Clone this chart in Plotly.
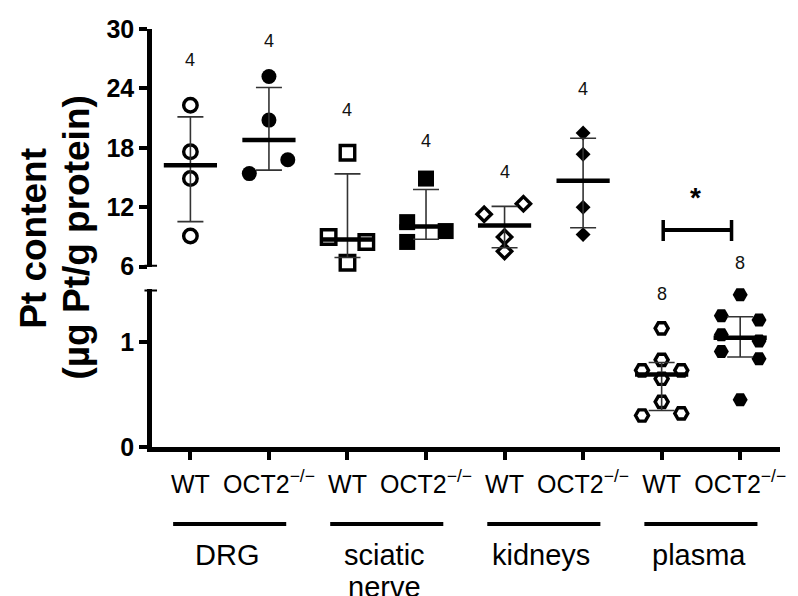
import numpy as np
import plotly.graph_objects as go

# ---------------- data ----------------
tick_labels = ["WT", "OCT2<sup>\u2212/\u2212</sup>"] * 4
group_names = ["DRG", "sciatic<br>nerve", "kidneys", "plasma"]

drg_wt = [22.3, 17.6, 14.9, 9.1]
drg_oct2 = [25.2, 20.8, 16.8, 15.4]
sciatic_wt = [17.5, 9.0, 8.5, 6.4]
sciatic_oct2 = [14.9, 10.5, 9.6, 8.5]
kidneys_wt = [12.35, 11.3, 9.0, 7.55]
kidneys_oct2 = [19.5, 17.35, 12.0, 9.24]
plasma_wt = [1.13, 0.83, 0.73, 0.73, 0.65, 0.43, 0.30, 0.32]
plasma_oct2 = [1.45, 1.25, 1.21, 1.07, 1.01, 0.91, 0.84, 0.45]

# horizontal scatter offsets of each point (category units)
jit_drg_wt = [0, 0, 0, 0]
jit_drg_oct2 = [0, 0, 0.24, -0.25]
jit_sciatic_wt = [0, -0.24, 0.24, 0]
jit_sciatic_oct2 = [0, -0.24, 0.25, -0.24]
jit_kidneys_wt = [0.24, -0.26, 0, 0]
jit_kidneys_oct2 = [0, 0, 0, 0]
jit_plasma_wt = [0, 0, -0.25, 0.25, 0, 0, -0.25, 0.25]
jit_plasma_oct2 = [0, -0.24, 0.24, -0.24, 0.24, -0.24, 0.24, 0]

n_labels = ["4", "4", "4", "4", "4", "4", "8", "8"]
n_label_axis = ["y2", "y2", "y2", "y2", "y2", "y2", "y", "y2"]
n_label_pos = [26.9, 28.8, 21.8, 18.7, 15.6, 23.9, 1.46, 6.37]

# ---------------- styling ----------------
FONT = "Arial, Liberation Sans, sans-serif"
series = [
    (drg_wt, jit_drg_wt, "circle", True, "y2"),
    (drg_oct2, jit_drg_oct2, "circle", False, "y2"),
    (sciatic_wt, jit_sciatic_wt, "square", True, "y2"),
    (sciatic_oct2, jit_sciatic_oct2, "square", False, "y2"),
    (kidneys_wt, jit_kidneys_wt, "diamond", True, "y2"),
    (kidneys_oct2, jit_kidneys_oct2, "diamond", False, "y2"),
    (plasma_wt, jit_plasma_wt, "hexagon2", True, "y"),
    (plasma_oct2, jit_plasma_oct2, "hexagon2", False, "y"),
]
size_open = {"circle": 13.5, "square": 14.5, "diamond": 11, "hexagon2": 13}
size_fill = {"circle": 15, "square": 16, "diamond": 11.5, "hexagon2": 15}

fig = go.Figure()
for i, (vals, jit, sym, is_open, yax) in enumerate(series):
    v = np.array(vals, dtype=float)
    xs = [i + j for j in jit]
    if is_open:
        marker = dict(symbol=sym, size=size_open[sym], color="rgba(0,0,0,0)",
                      line=dict(color="black", width=3.4))
    else:
        marker = dict(symbol=sym, size=size_fill[sym], color="black",
                      line=dict(width=0))
    fig.add_trace(go.Scatter(x=xs, y=v, mode="markers", marker=marker, cliponaxis=False,
                             yaxis=yax, showlegend=False, hoverinfo="skip"))
    med = float(np.median(v))
    q1, q3 = np.percentile(v, [25, 75], method="weibull")
    fig.add_trace(go.Scatter(
        x=[i], y=[med], mode="markers", yaxis=yax, showlegend=False,
        hoverinfo="skip", cliponaxis=False,
        marker=dict(symbol="line-ew", size=38, color="black",
                    line=dict(color="black", width=4.5)),
        error_y=dict(type="data", symmetric=False, array=[q3 - med],
                     arrayminus=[med - q1], color="#333333", thickness=1.6,
                     width=13)))

annotations = []
for i, (lab, ax, pos) in enumerate(zip(n_labels, n_label_axis, n_label_pos)):
    annotations.append(dict(x=i, y=pos, xref="x", yref=ax, text=lab,
                            showarrow=False, font=dict(family=FONT, size=18, color="#111")))

# y title (two lines)
for txt, xp in (("Pt content", -0.1897), ("(\u00b5g Pt/g protein)", -0.1217)):
    annotations.append(dict(x=xp, y=0.5, xref="paper", yref="paper",
                            text="<b>" + txt + "</b>", textangle=-90, showarrow=False,
                            xanchor="center", yanchor="middle",
                            font=dict(family=FONT, size=37, color="black")))

shapes = []
for g, name in enumerate(group_names):
    c = 2 * g + 0.5
    shapes.append(dict(type="line", xref="x", yref="paper", x0=c - 0.72, x1=c + 0.72,
                       y0=-0.1842, y1=-0.1842, line=dict(color="black", width=4)))
    for k, line in enumerate(name.split("<br>")):
        annotations.append(dict(x=c - 0.03, y=-0.2153 - k * 0.077, xref="x", yref="paper",
                                text=line, showarrow=False, yanchor="top", xanchor="center",
                                font=dict(family=FONT, size=29, color="black")))

# significance bracket for plasma
shapes.append(dict(type="line", xref="x", yref="y2", x0=6.02, x1=6.89, y0=9.71, y1=9.71,
                   line=dict(color="black", width=4)))
for xb in (6.02, 6.89):
    shapes.append(dict(type="line", xref="x", yref="y2", x0=xb, x1=xb, y0=8.6, y1=10.72,
                       line=dict(color="black", width=3.5)))
annotations.append(dict(x=6.43, y=13.0, xref="x", yref="y2", text="<b>*</b>", showarrow=False,
                        font=dict(family=FONT, size=28, color="black")))

# axis break caps
for yref, yv in (("y2", 6), ("y", 1.5)):
    shapes.append(dict(type="line", xref="paper", yref=yref, x0=-0.012, x1=0.008,
                       y0=yv, y1=yv, line=dict(color="black", width=4)))

axis_common = dict(showline=True, linecolor="black", linewidth=4.5, ticks="outside",
                   ticklen=8, tickwidth=3.5, tickcolor="black", showgrid=False,
                   zeroline=False)

fig.update_layout(
    width=798, height=596,
    margin=dict(l=152, r=13.5, t=29, b=149),
    paper_bgcolor="white", plot_bgcolor="white",
    font=dict(family=FONT, color="black"),
    xaxis=dict(range=[-0.489, 7.507], tickvals=list(range(8)), ticktext=tick_labels,
               tickangle=0, anchor="y", tickfont=dict(family=FONT, size=25),
               ticklabelstandoff=3, **axis_common),
    yaxis=dict(domain=[0, 0.3768], range=[0, 1.5], tickvals=[0, 1], anchor="x",
               tickfont=dict(family=FONT, size=25, weight="bold"), **axis_common),
    yaxis2=dict(domain=[0.4313, 1], range=[6, 30], tickvals=[6, 12, 18, 24, 30], anchor="x",
                tickfont=dict(family=FONT, size=25, weight="bold"), **axis_common),
    annotations=annotations, shapes=shapes,
)
fig.write_html("out.html")
